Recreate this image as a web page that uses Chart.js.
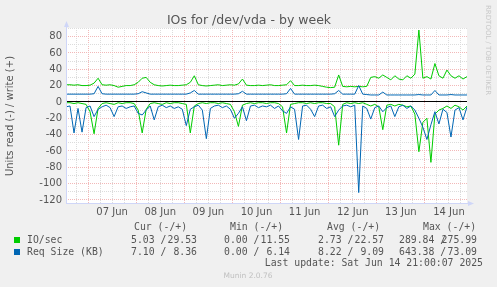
<!DOCTYPE html>
<html>
<head>
<meta charset="utf-8">
<title>IOs for /dev/vda - by week</title>
<script src="https://cdn.jsdelivr.net/npm/chart.js@4.4.1/dist/chart.umd.min.js"></script>
<style>
  html, body { margin: 0; padding: 0; background: #f0f0f0; overflow: hidden; }
  canvas { display: block; }
</style>
</head>
<body>
<canvas id="ioChart" width="497" height="287"></canvas>
<script>
// x axis: hours relative to 07 Jun 00:00, one sample every 2h (06 Jun 13:00 .. 14 Jun 21:00)
const hours = [];
for (let h = -11; h <= 189; h += 2) hours.push(h);

const dayLabels = ['07 Jun', '08 Jun', '09 Jun', '10 Jun', '11 Jun', '12 Jun', '13 Jun', '14 Jun'];

// IO/sec, write (+)
const ioWrite = [
  21, 21, 20.5, 21, 20, 20,
  20.5, 23, 29, 21, 20.5, 21, 20, 18, 19, 20, 20, 21,
  24, 29, 30, 24, 21, 20, 19.5, 20, 20.5, 20, 20, 20.5,
  21, 24, 32, 21, 20, 19.5, 20, 20.5, 21, 20, 20.5, 21,
  20.5, 22, 28, 20.5, 20, 20, 20.5, 20, 20.5, 21, 20, 20,
  20.5, 21, 26, 20, 20, 20.5, 20, 20, 20.5, 20, 19, 18,
  17.5, 18, 33, 19, 18.5, 19, 18.5, 19, 18.5, 19, 30, 31,
  29, 33, 30, 27, 32, 28, 27, 32, 29, 34, 88, 29,
  31, 28, 47, 32, 29, 39, 32, 29, 32, 28, 31
];
// IO/sec, read (-)
const ioRead = [
  -1, -1, -2, -1, -2, -3,
  -12, -39, -8, -2, -1, -2, -3, -1, -2, -1, -1, -2,
  -10, -38, -9, -2, -1, -2, -3, -1, -2, -1, -1, -2,
  -3, -38, -5, -2, -1, -2, -1, -1, -2, -1, -2, -3,
  -12, -30, -4, -2, -1, -2, -1, -1, -2, -1, -1, -2,
  -6, -38, -3, -2, -1, -1, -2, -1, -2, -1, -1, -2,
  -2, -6, -53, -3, -1, -2, -1, -2, -1, -3, -5, -3,
  -6, -34, -4, -3, -5, -3, -4, -6, -5, -15, -61, -25,
  -20, -74, -15, -10, -8, -5, -8, -4, -6, -10, -5
];
// Req Size (KB), write (+)
const reqWrite = [
  9.5, 9.5, 9.5, 9.5, 9.5, 9.5,
  9.5, 10, 19, 10, 9.5, 9.5, 9.5, 9.5, 9.5, 9.5, 9.5, 9.5,
  10, 12.5, 11, 9.5, 9.5, 9.5, 9.5, 9.5, 9.5, 9.5, 9.5, 9.5,
  9.5, 11, 14, 9.5, 9.5, 9.5, 9.5, 9.5, 9.5, 9.5, 9.5, 9.5,
  9.5, 10, 13, 9.5, 9.5, 9.5, 9.5, 9.5, 9.5, 9.5, 9.5, 9.5,
  9.5, 10, 16.5, 9.5, 9.5, 9.5, 9.5, 9.5, 9.5, 9.5, 9.5, 9.5,
  9.5, 10, 14, 9.5, 9.5, 9.5, 9.5, 20, 9.5, 9, 8.5, 8.5,
  8.5, 12, 8.5, 8.5, 8.5, 8.5, 8.5, 8.5, 8.5, 8.5, 9, 8.5,
  8.5, 8.5, 14, 8.5, 8.5, 8.5, 9, 8.5, 8.5, 8.5, 8.5
];
// Req Size (KB), read (-)
const reqRead = [
  -6, -5, -38, -8, -37, -7,
  -5, -18, -9, -6, -4, -7, -18, -6, -5, -8, -6, -5,
  -14, -16, -10, -5, -22, -6, -4, -7, -5, -8, -6, -9,
  -29, -9, -6, -4, -10, -45, -8, -5, -4, -7, -5, -9,
  -20, -14, -6, -23, -5, -4, -7, -5, -6, -4, -8, -5,
  -11, -14, -6, -9, -46, -5, -4, -9, -18, -5, -4, -8,
  -6, -18, -10, -5, -4, -6, -4, -111, -5, -8, -21, -7,
  -5, -12, -7, -5, -18, -6, -4, -8, -5, -10, -20, -31,
  -46, -28, -12, -27, -9, -13, -43, -10, -7, -22, -6
];

// legend table
const seriesNames = ['IO/sec', 'Req Size (KB)'];
const seriesColors = ['#00cc00', '#0066b3'];
const statHeaders = ['Cur (-/+)', 'Min (-/+)', 'Avg (-/+)', 'Max (-/+)'];
const curText = ['5.03 /29.53', '7.10 / 8.36'];
const minText = ['0.00 /11.55', '0.00 / 6.14'];
const avgText = ['2.73 /22.57', '8.22 / 9.09'];
const maxText = ['289.84 /275.99', '643.38 /73.09'];

const yTicks = [];
for (let v = -120; v <= 90; v += 10) yTicks.push(v);
const xTicks = [];
for (let h = -6; h <= 186; h += 6) xTicks.push(h);

const FONT = '"DejaVu Sans", Verdana, sans-serif';
const MONO = '"DejaVu Sans Mono", monospace';
const TEXT = '#555555';
const AXIS = '#cfd6f8';
const GRID_MAJOR = '#f2b8b8';
const GRID_MINOR = '#dcdcdc';

function pts(vals) {
  return hours.map((h, i) => ({ x: h, y: vals[i] }));
}

const munin = {
  id: 'munin',
  beforeDraw(chart) {
    const { ctx, chartArea: a } = chart;
    ctx.save();
    ctx.fillStyle = '#f0f0f0';
    ctx.fillRect(0, 0, chart.width, chart.height);
    ctx.fillStyle = '#ffffff';
    ctx.fillRect(a.left, a.top, a.right - a.left, a.bottom - a.top);
    ctx.restore();
  },
  afterDatasetsDraw(chart) {
    const { ctx, chartArea: a } = chart;
    const y0 = Math.round(chart.scales.y.getPixelForValue(0)) - 0.5;
    ctx.save();
    ctx.lineWidth = 1;
    ctx.strokeStyle = '#000000';
    ctx.beginPath();
    ctx.moveTo(a.left, y0);
    ctx.lineTo(a.right, y0);
    ctx.stroke();

    // axes with arrows
    ctx.strokeStyle = AXIS;
    ctx.fillStyle = AXIS;
    ctx.beginPath();
    ctx.moveTo(a.left + 0.5, a.bottom);
    ctx.lineTo(a.left + 0.5, a.top - 4);
    ctx.moveTo(a.left, a.bottom - 0.5);
    ctx.lineTo(a.right + 3, a.bottom - 0.5);
    ctx.stroke();
    ctx.beginPath();
    ctx.moveTo(a.left - 2, a.top - 1);
    ctx.lineTo(a.left + 3, a.top - 1);
    ctx.lineTo(a.left + 0.5, a.top - 7);
    ctx.closePath();
    ctx.fill();
    ctx.beginPath();
    ctx.moveTo(a.right + 1, a.bottom - 3);
    ctx.lineTo(a.right + 1, a.bottom + 2);
    ctx.lineTo(a.right + 7, a.bottom - 0.5);
    ctx.closePath();
    ctx.fill();
    ctx.restore();
  },
  afterDraw(chart) {
    const { ctx, chartArea: a } = chart;
    ctx.save();
    ctx.fillStyle = TEXT;
    ctx.textAlign = 'center';
    ctx.textBaseline = 'alphabetic';
    ctx.font = '12.5px ' + FONT;
    ctx.fillText('IOs for /dev/vda - by week', 249, 24);

    // y axis title
    ctx.save();
    ctx.translate(10.5, (a.top + a.bottom) / 2);
    ctx.rotate(-Math.PI / 2);
    ctx.textBaseline = 'middle';
    ctx.font = '10px ' + FONT;
    ctx.fillText('Units read (-) / write (+)', 0, 0);
    ctx.restore();

    // rrdtool watermark
    ctx.save();
    ctx.translate(485, 5);
    ctx.rotate(Math.PI / 2);
    ctx.textAlign = 'left';
    ctx.textBaseline = 'middle';
    ctx.fillStyle = '#c8c8c8';
    ctx.font = '7px ' + FONT;
    ctx.fillText('RRDTOOL / TOBI OETIKER', 0, -2.5);
    ctx.restore();

    // legend
    ctx.font = '9.8px ' + MONO;
    ctx.textBaseline = 'middle';
    ctx.textAlign = 'left';
    const hdrX = [134, 230, 327, 423];
    statHeaders.forEach((t, i) => ctx.fillText(t, hdrX[i], 227.5));

    const cols = [[131, 197], [224, 290], [318, 384], [399, 477]];
    const stats = [curText, minText, avgText, maxText];
    const rowY = [240, 252];
    seriesNames.forEach((name, r) => {
      ctx.fillStyle = seriesColors[r];
      ctx.fillRect(14, rowY[r] - 3, 6, 6);
      ctx.fillStyle = TEXT;
      ctx.textAlign = 'left';
      ctx.fillText(name, 27, rowY[r]);
      stats.forEach((s, c) => {
        const parts = s[r].split('/');
        ctx.textAlign = 'left';
        ctx.fillText(parts[0] + '/', cols[c][0], rowY[r]);
        ctx.textAlign = 'right';
        ctx.fillText(parts[1], cols[c][1], rowY[r]);
      });
    });
    ctx.textAlign = 'right';
    ctx.fillText('Last update: Sat Jun 14 21:00:07 2025', 483, 263.5);

    ctx.textAlign = 'center';
    ctx.fillStyle = '#c0c0c0';
    ctx.font = '7.5px ' + FONT;
    ctx.fillText('Munin 2.0.76', 248, 276);
    ctx.restore();
  }
};

const line = (label, vals, color) => ({
  label: label,
  data: pts(vals),
  borderColor: color,
  borderWidth: 1,
  pointRadius: 0,
  tension: 0,
  fill: false
});

new Chart(document.getElementById('ioChart'), {
  type: 'line',
  data: {
    // first dataset is drawn last, so blue sits on top of green
    datasets: [
      line('Req Size (KB) write', reqWrite, seriesColors[1]),
      line('Req Size (KB) read', reqRead, seriesColors[1]),
      line('IO/sec write', ioWrite, seriesColors[0]),
      line('IO/sec read', ioRead, seriesColors[0])
    ]
  },
  options: {
    responsive: false,
    animation: false,
    layout: { padding: { left: 0, top: 28, right: 30, bottom: 0 } },
    plugins: { legend: { display: false }, tooltip: { enabled: false } },
    scales: {
      x: {
        type: 'linear',
        min: -11,
        max: 189,
        afterFit: (s) => { s.height = 83; },
        afterBuildTicks: (s) => { s.ticks = xTicks.map(v => ({ value: v })); },
        ticks: {
          autoSkip: false,
          maxRotation: 0,
          padding: 2,
          color: TEXT,
          font: { family: FONT, size: 10 },
          callback: (v) => (((v % 24) + 24) % 24 === 12 ? dayLabels[Math.floor(v / 24)] : '')
        },
        grid: {
          drawTicks: false,
          color: (c) => (((c.tick.value % 24) + 24) % 24 === 0 ? GRID_MAJOR : GRID_MINOR)
        },
        border: { display: false, dash: [1, 1] }
      },
      y: {
        min: -125,
        max: 90.5,
        afterFit: (s) => { s.width = 66; },
        afterBuildTicks: (s) => { s.ticks = yTicks.map(v => ({ value: v })); },
        ticks: {
          autoSkip: false,
          padding: 4,
          color: TEXT,
          font: { family: FONT, size: 10 },
          callback: (v) => (v % 20 === 0 ? String(v) : '')
        },
        grid: {
          drawTicks: false,
          color: (c) => (c.tick.value === 0 ? 'rgba(0,0,0,0)' : (c.tick.value % 20 === 0 ? GRID_MAJOR : GRID_MINOR))
        },
        border: { display: false, dash: [1, 1] }
      }
    }
  },
  plugins: [munin]
});
</script>
</body>
</html>
